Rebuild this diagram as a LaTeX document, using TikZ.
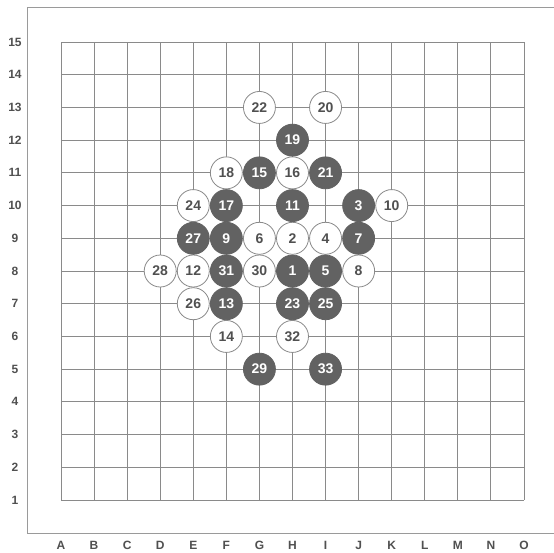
\documentclass[tikz,border=0pt]{standalone}
\usepackage{fontspec}
\setmainfont{Liberation Sans}
\definecolor{stonegray}{HTML}{626262}
\definecolor{gridgray}{HTML}{8A8A8A}
\definecolor{framegray}{HTML}{9A9A9A}
\definecolor{labelgray}{HTML}{505050}
\tikzset{
  gridline/.style={draw=gridgray, line width=0.9pt},
  frameline/.style={draw=framegray, line width=0.8pt},
  stonebase/.style={circle, minimum size=32pt, inner sep=0pt, line width=0.8pt,
    font=\bfseries\fontsize{14}{14}\selectfont},
  stoneb/.style={stonebase, fill=stonegray, draw=stonegray, text=white},
  stonew/.style={stonebase, fill=white, draw=gridgray, text=labelgray},
  axislabel/.style={text=labelgray, font=\bfseries\fontsize{12}{12}\selectfont, inner sep=0pt}
}
\begin{document}
\begin{tikzpicture}[x=1pt,y=-1pt]
\useasboundingbox (0,0) rectangle (554,552);
\fill[white] (0,0) rectangle (554,552);
% frame
\coordinate (ftr) at (554,7);
\coordinate (ftl) at (27.5,7);
\coordinate (fbl) at (27.5,533);
\coordinate (fbr) at (554,533);
\draw[frameline] (ftr) -- (ftl) -- (fbl) -- (fbr);
% grid
\foreach \i in {0,...,14}{
  \draw[gridline] ({61+\i*33.07},42) -- ({61+\i*33.07},500);
  \draw[gridline] (61,{42+\i*32.714}) -- (524,{42+\i*32.714});
}
% labels
\foreach \l [count=\c] in {A,B,C,D,E,F,G,H,I,J,K,L,M,N,O}{
  \node[axislabel] (col\c) at ({61+(\c-1)*33.07},545) {\l};
}
\foreach \r in {1,...,15}{
  \node[axislabel] (row\r) at (15,{500-(\r-1)*32.714}) {\r};
}
% stones
\foreach \n/\c/\r/\k in {
  1/8/8/b, 2/8/9/w, 3/10/10/b, 4/9/9/w, 5/9/8/b, 6/7/9/w, 7/10/9/b, 8/10/8/w,
  9/6/9/b, 10/11/10/w, 11/8/10/b, 12/5/8/w, 13/6/7/b, 14/6/6/w, 15/7/11/b,
  16/8/11/w, 17/6/10/b, 18/6/11/w, 19/8/12/b, 20/9/13/w, 21/9/11/b, 22/7/13/w,
  23/8/7/b, 24/5/10/w, 25/9/7/b, 26/5/7/w, 27/5/9/b, 28/4/8/w, 29/7/5/b,
  30/7/8/w, 31/6/8/b, 32/8/6/w, 33/9/5/b}{
  \node[stone\k] (s\n) at ({61+(\c-1)*33.07},{500-(\r-1)*32.714}) {\n};
}
\end{tikzpicture}
\end{document}
